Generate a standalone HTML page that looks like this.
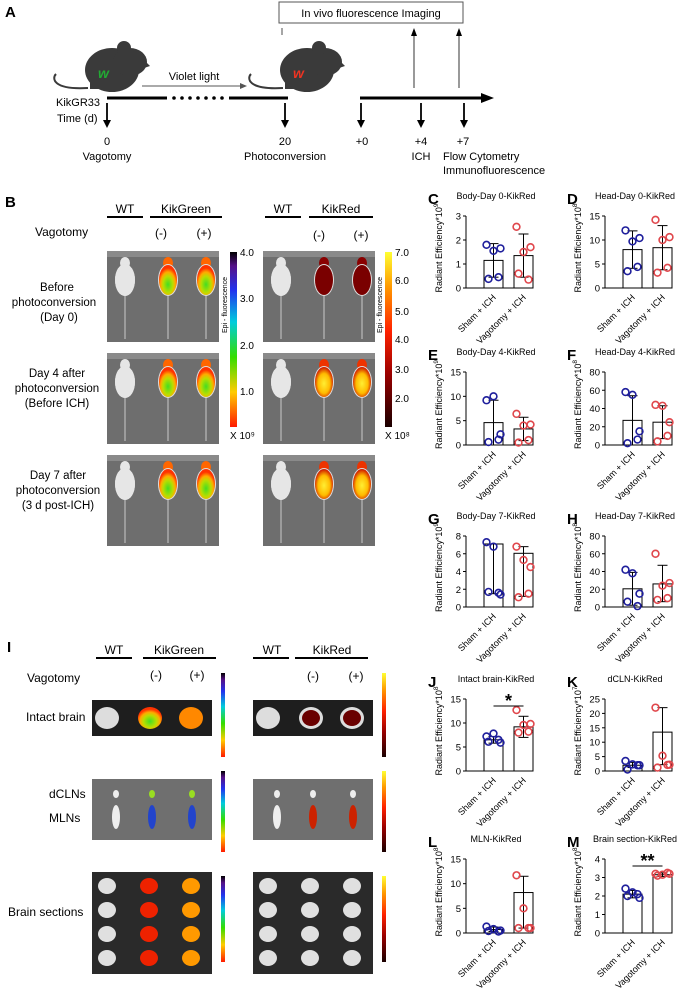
<!DOCTYPE html>
<html><head><meta charset="utf-8"><style>
html,body{margin:0;padding:0;background:#fff}
svg{display:block;font-family:"Liberation Sans",Arial,sans-serif}
</style></head><body>
<svg id="fig" width="692" height="996" viewBox="0 0 692 996">
<defs>
<linearGradient id="gGreen" x1="0" y1="1" x2="0" y2="0">
<stop offset="0" stop-color="#ff1a00"/><stop offset="0.2" stop-color="#ffcc00"/><stop offset="0.4" stop-color="#33dd00"/><stop offset="0.6" stop-color="#00ccdd"/><stop offset="0.78" stop-color="#2233ee"/><stop offset="0.92" stop-color="#551188"/><stop offset="1" stop-color="#000"/></linearGradient>
<linearGradient id="gRed" x1="0" y1="1" x2="0" y2="0">
<stop offset="0" stop-color="#1a0000"/><stop offset="0.3" stop-color="#990000"/><stop offset="0.55" stop-color="#ff2200"/><stop offset="0.8" stop-color="#ff9900"/><stop offset="1" stop-color="#ffff33"/></linearGradient>
<radialGradient id="hotG" cx="0.5" cy="0.65" r="0.55"><stop offset="0" stop-color="#44dd22"/><stop offset="0.5" stop-color="#bbdd00"/><stop offset="0.75" stop-color="#ffaa00"/><stop offset="1" stop-color="#ff3300"/></radialGradient>
<radialGradient id="hotR" cx="0.5" cy="0.55" r="0.55"><stop offset="0" stop-color="#ffee33"/><stop offset="0.6" stop-color="#ffbb00"/><stop offset="1" stop-color="#cc1100"/></radialGradient>
</defs>

<!-- Panel A -->
<g font-size="11">
<text x="5" y="17" font-weight="bold" font-size="15">A</text>
<rect x="279" y="2" width="184" height="21" fill="#fff" stroke="#555"/>
<text x="371" y="17" text-anchor="middle">In vivo fluorescence Imaging</text>
<line x1="282" y1="35" x2="282" y2="28" stroke="#000" stroke-width="0.7"/>
<g fill="#3a3a3a">
<path d="M88 88 C52 90 52 78 56 74" stroke="#3a3a3a" stroke-width="2" fill="none"/>
<ellipse cx="112" cy="70" rx="27" ry="22"/><ellipse cx="130" cy="62" rx="17" ry="14"/><circle cx="124" cy="48" r="7"/><path d="M140 56 L150 66 L138 70 Z"/>
<rect x="90" y="80" width="32" height="9"/>
<text x="98" y="78" fill="#22aa33" font-size="14" font-style="italic" font-weight="bold">w</text>
</g>
<g fill="#3a3a3a">
<path d="M283 88 C247 90 247 78 251 74" stroke="#3a3a3a" stroke-width="2" fill="none"/>
<ellipse cx="307" cy="70" rx="27" ry="22"/><ellipse cx="325" cy="62" rx="17" ry="14"/><circle cx="319" cy="48" r="7"/><path d="M335 56 L345 66 L333 70 Z"/>
<rect x="285" y="80" width="32" height="9"/>
<text x="293" y="78" fill="#ee3322" font-size="14" font-style="italic" font-weight="bold">w</text>
</g>
<text x="194" y="80" text-anchor="middle">Violet light</text>
<line x1="142" y1="86" x2="243" y2="86" stroke="#555"/><path d="M247 86 L240 83 L240 89Z" fill="#555"/>
<line x1="107" y1="98" x2="167" y2="98" stroke="#000" stroke-width="3"/>
<g fill="#000"><circle cx="174" cy="98" r="1.8"/><circle cx="182" cy="98" r="1.8"/><circle cx="190" cy="98" r="1.8"/><circle cx="198" cy="98" r="1.8"/><circle cx="206" cy="98" r="1.8"/><circle cx="214" cy="98" r="1.8"/><circle cx="222" cy="98" r="1.8"/></g>
<line x1="229" y1="98" x2="288" y2="98" stroke="#000" stroke-width="3"/>
<line x1="360" y1="98" x2="484" y2="98" stroke="#000" stroke-width="3"/><path d="M494 98 L481 93 L481 103Z"/>
<g stroke="#000" stroke-width="0.8"><line x1="414" y1="88" x2="414" y2="34"/><line x1="459" y1="88" x2="459" y2="34"/></g>
<path d="M414 28 L411 36 L417 36Z M459 28 L456 36 L462 36Z"/>
<g stroke="#000" stroke-width="1.8"><line x1="107" y1="103" x2="107" y2="122"/><line x1="285" y1="103" x2="285" y2="122"/><line x1="361" y1="103" x2="361" y2="122"/><line x1="421" y1="103" x2="421" y2="122"/><line x1="464" y1="103" x2="464" y2="122"/></g>
<path d="M107 128 L103 120 L111 120Z M285 128 L281 120 L289 120Z M361 128 L357 120 L365 120Z M421 128 L417 120 L425 120Z M464 128 L460 120 L468 120Z"/>
<text x="56" y="106">KikGR33</text><text x="57" y="122">Time (d)</text>
<g text-anchor="middle"><text x="107" y="145">0</text><text x="107" y="160">Vagotomy</text><text x="285" y="145">20</text><text x="285" y="160">Photoconversion</text><text x="362" y="145">+0</text><text x="421" y="145">+4</text><text x="421" y="160">ICH</text><text x="463" y="145">+7</text></g>
<text x="443" y="160">Flow Cytometry</text><text x="443" y="174">Immunofluorescence</text>
</g>

<!-- Panel B -->
<g font-size="11">
<text x="5" y="207" font-weight="bold" font-size="15">B</text>
<g text-anchor="middle" font-size="12"><text x="125" y="213">WT</text><text x="186" y="213">KikGreen</text><text x="283" y="213">WT</text><text x="341" y="213">KikRed</text></g>
<g stroke="#000" stroke-width="2"><line x1="107" y1="217" x2="143" y2="217"/><line x1="150" y1="217" x2="222" y2="217"/><line x1="265" y1="217" x2="301" y2="217"/><line x1="309" y1="217" x2="373" y2="217"/></g>
<text x="35" y="236" font-size="12">Vagotomy</text>
<g text-anchor="middle" font-size="12"><text x="161" y="237">(-)</text><text x="204" y="237">(+)</text><text x="319" y="239">(-)</text><text x="361" y="239">(+)</text></g>
<g text-anchor="middle" font-size="11.5">
<text x="57" y="291">Before</text><text x="54" y="306">photoconversion</text><text x="59" y="321">(Day 0)</text>
<text x="57" y="377">Day 4 after</text><text x="57" y="392">photoconversion</text><text x="57" y="407">(Before ICH)</text>
<text x="58" y="479">Day 7 after</text><text x="58" y="494">photoconversion</text><text x="58" y="509">(3 d post-ICH)</text>
</g>
<g id="bimgs"></g>
<rect x="230" y="252" width="7" height="175" fill="url(#gGreen)"/>
<rect x="385" y="252" width="7" height="175" fill="url(#gRed)"/>
<g font-size="10"><text x="240" y="256">4.0</text><text x="240" y="302">3.0</text><text x="240" y="349">2.0</text><text x="240" y="395">1.0</text><text x="230" y="439">X 10⁹</text>
<text x="395" y="256">7.0</text><text x="395" y="284">6.0</text><text x="395" y="315">5.0</text><text x="395" y="343">4.0</text><text x="395" y="373">3.0</text><text x="395" y="402">2.0</text><text x="385" y="439">X 10⁸</text></g>
<g font-size="7"><text transform="translate(227,305) rotate(-90)" text-anchor="middle">Epi - fluorescence</text><text transform="translate(382,305) rotate(-90)" text-anchor="middle">Epi - fluorescence</text></g>
</g>

<!-- Panel I -->
<g font-size="12">
<text x="7" y="652" font-weight="bold" font-size="15">I</text>
<g text-anchor="middle"><text x="114" y="654">WT</text><text x="179" y="654">KikGreen</text><text x="272" y="654">WT</text><text x="332" y="654">KikRed</text></g>
<g stroke="#000" stroke-width="2"><line x1="96" y1="658" x2="132" y2="658"/><line x1="143" y1="658" x2="216" y2="658"/><line x1="253" y1="658" x2="289" y2="658"/><line x1="295" y1="658" x2="368" y2="658"/></g>
<text x="27" y="682">Vagotomy</text>
<g text-anchor="middle"><text x="156" y="679">(-)</text><text x="197" y="679">(+)</text><text x="313" y="680">(-)</text><text x="356" y="680">(+)</text></g>
<text x="26" y="721">Intact brain</text><text x="49" y="798">dCLNs</text><text x="49" y="822">MLNs</text><text x="8" y="916">Brain sections</text>
<g id="iimgs"></g>
<g>
<rect x="221" y="673" width="4" height="84" fill="url(#gGreen)"/><rect x="221" y="771" width="4" height="81" fill="url(#gGreen)"/><rect x="221" y="876" width="4" height="86" fill="url(#gGreen)"/>
<rect x="382" y="673" width="4" height="84" fill="url(#gRed)"/><rect x="382" y="771" width="4" height="81" fill="url(#gRed)"/><rect x="382" y="876" width="4" height="86" fill="url(#gRed)"/>
</g>
</g>

<g id="charts"></g>
</svg>
<script>
const NS='http://www.w3.org/2000/svg';
function mk(tag,attrs,parent,txt){const e=document.createElementNS(NS,tag);for(const k in attrs)e.setAttribute(k,attrs[k]);if(txt!==undefined)e.textContent=txt;parent.appendChild(e);return e;}

// ---------- mouse images (panel B) ----------
const bimgs=document.getElementById('bimgs');
const bRowsY=[251,353,455];
const bCols=[[107,'L'],[263,'R']];
bRowsY.forEach((ry,ri)=>{bCols.forEach(([cx,side])=>{
  const g=mk('g',{},bimgs);
  
  
  mk('rect',{x:cx,y:ry,width:112,height:91,fill:'#6e6e6e'},g);
  mk('rect',{x:cx,y:ry,width:112,height:6,fill:'#8a8a8a'},g);
  [18,61,99].forEach((mx,mi)=>{
    const x=cx+mx;
    mk('line',{x1:x,y1:ry+40,x2:x,y2:ry+88,stroke:'#bbb','stroke-width':1.2},g);
    let fill='#e6e6e6';
    if(mi>0) fill = side==='L' ? 'url(#hotG)' : (ri===0?'#7a0000':'url(#hotR)');
    mk('ellipse',{cx:x,cy:ry+12,rx:5,ry:6,fill:mi>0?(side==='L'?'#ff6600':(ri===0?'#8a0000':'#ee3300')):'#e6e6e6'},g);
    mk('ellipse',{cx:x,cy:ry+29,rx:10,ry:16,fill:'#ddd'},g);
    mk('ellipse',{cx:x,cy:ry+29,rx:mi>0?9:10,ry:mi>0?15:16,fill:fill},g);
  });
});});

// ---------- organ images (panel I) ----------
const iimgs=document.getElementById('iimgs');
const iRows=[[700,36,'#1e1e1e'],[779,61,'#6f6f6f'],[872,102,'#2a2a2a']];
[92,253].forEach((cx,ci)=>{iRows.forEach(([ry,h,bg],ri)=>{
  const g=mk('g',{},iimgs);
  
  
  mk('rect',{x:cx,y:ry,width:120,height:h,fill:bg},g);
  const xs=[15,65,106];
  if(ri===0){xs.forEach((dx,i)=>{mk('ellipse',{cx:cx+dx+(i==0?0:-7),cy:ry+18,rx:12,ry:11,fill:i===0?'#ddd':(ci===0?(i==1?'url(#hotG)':'#ff8800'):'#ddd')},g);
    if(i>0&&ci===1)mk('ellipse',{cx:cx+dx-7,cy:ry+18,rx:9,ry:8,fill:'#6a0000'},g);});}
  if(ri===1){xs.forEach((dx,i)=>{const x=cx+(i==0?24:i==1?60:100);
    mk('ellipse',{cx:x,cy:ry+15,rx:3,ry:4,fill:i==0?'#eee':(ci==0?'#99dd22':'#eee')},g);
    mk('ellipse',{cx:x,cy:ry+38,rx:4,ry:12,fill:i==0?'#eee':(ci==0?'#2244cc':'#cc2200')},g);});}
  if(ri===2){for(let r=0;r<4;r++){xs.forEach((dx,i)=>{const x=cx+(i==0?15:i==1?57:99);
    let f='#e0e0e0'; if(i>0&&ci===0) f=i==1?'#ee2200':'#ff9900';
    mk('ellipse',{cx:x,cy:ry+14+r*24,rx:9,ry:8,fill:f},g);});}}
});});

// ---------- chart data ----------
const groups=['Sham + ICH','Vagotomy + ICH'];
const titles=['Body-Day 0-KikRed','Head-Day 0-KikRed','Body-Day 4-KikRed','Head-Day 4-KikRed','Body-Day 7-KikRed','Head-Day 7-KikRed','Intact brain-KikRed','dCLN-KikRed','MLN-KikRed','Brain section-KikRed'];
const letters=['C','D','E','F','G','H','J','K','L','M'];
const exps=['9','8','9','8','9','8','8','7','8','8'];
const yTicks=[[0,1,2,3],[0,5,10,15],[0,5,10,15],[0,20,40,60,80],[0,2,4,6,8],[0,20,40,60,80],[0,5,10,15],[0,5,10,15,20,25],[0,5,10,15],[0,1,2,3,4]];
const barSham=[1.15,8,4.6,27,7.1,20.5,6.5,2,0.7,2.1];
const barVag=[1.35,8.4,3.3,25,6.05,26,9.2,13.5,8.2,3.15];
const errSham=[[0.45,1.85],[4.1,11.9],[0,9.2],[0,54],[1.5,7.1],[2,39],[5.8,7.2],[1.2,3],[0.3,1.2],[1.9,2.3]];
const errVag=[[0.45,2.25],[3.8,13],[0.9,5.7],[7,43],[1.2,6.8],[6,47],[7,11.4],[2.2,22],[1,11.5],[3.05,3.25]];
const ptsSham=[[1.8,1.55,1.65,0.38,0.45],[12,9.7,10.4,3.5,4.4],[9.2,10,2.2,0.6,1.1],[58,55,15,2,6],[7.3,6.8,1.4,1.7,1.6],[42,38,15,6,1],[7.2,7.8,5.9,6.1,6.5],[3.5,2.3,2,0.5,2],[1.3,0.8,0.5,0.4,0.3],[2.4,2.2,1.9,2.0,2.1]];
const ptsVag=[[2.55,1.5,1.7,0.6,0.35],[14.2,10,10.6,3.2,4.2],[6.4,4,4.2,0.5,1],[44,43,25,4,10],[6.8,5.3,4.5,1.1,1.5],[60,24,27,8,10],[12.7,9.6,9.8,8,8.2],[22,5.3,2.2,1.2,2.1],[11.7,5,1,1,1],[3.2,3.15,3.2,3.1,3.25]];
const sigLabels=['','','','','','','*','','','**'];

// layout (not data)
const rowTop=[216,372,536,699,859], rowBase=[288,445,607,771,933], colAxis=[466,605];
const ptOffsets=[-7,0,7,-5,5];
const charts=document.getElementById('charts');

titles.forEach((t,i)=>{
  const r=Math.floor(i/2), c=i%2;
  const ax=colAxis[c], y0=rowBase[r], yT=rowTop[r];
  const ticks=yTicks[i], ymax=ticks[ticks.length-1];
  const ys=v=>y0-(v/ymax)*(y0-yT);
  const bx=[ax+18,ax+48], bw=19;
  const g=mk('g',{},charts);
  
  
  const lt=mk('text',{x:ax-38,y:yT-12,'font-size':15,'font-weight':'bold'},g,letters[i]);
  
  
  const tt=mk('text',{x:ax+30,y:yT-17,'font-size':9,'text-anchor':'middle'},g,t);
  
  
  mk('line',{x1:ax,y1:yT,x2:ax,y2:y0,stroke:'#000','stroke-width':1},g);
  mk('line',{x1:ax,y1:y0,x2:ax+63,y2:y0,stroke:'#000','stroke-width':1},g);
  ticks.forEach(v=>{const y=ys(v);mk('line',{x1:ax-3,y1:y,x2:ax,y2:y,stroke:'#000'},g);
    const tl=mk('text',{x:ax-5,y:y+3.5,'font-size':9.5,'text-anchor':'end'},g,String(v));
    
    });
  const yt=mk('text',{transform:`translate(${ax-24},${(y0+yT)/2-4}) rotate(-90)`,'font-size':9,'text-anchor':'middle'},g);
  
  
  yt.appendChild(document.createTextNode('Radiant Efficiency*10'));
  mk('tspan',{dy:-4,'font-size':6.5},yt,exps[i]);
  const bars=[barSham[i],barVag[i]], errs=[errSham[i],errVag[i]], pts=[ptsSham[i],ptsVag[i]], cols=['#1f1f9c','#e0474c'];
  [0,1].forEach(k=>{
    const cx=bx[k]+bw/2;
    const b=mk('rect',{x:bx[k],y:ys(bars[k]),width:bw,height:y0-ys(bars[k]),fill:'#fff',stroke:'#000','stroke-width':1},g);
    
    
    mk('line',{x1:cx,y1:ys(errs[k][0]),x2:cx,y2:ys(errs[k][1]),stroke:'#000'},g);
    mk('line',{x1:cx-5,y1:ys(errs[k][0]),x2:cx+5,y2:ys(errs[k][0]),stroke:'#000'},g);
    mk('line',{x1:cx-5,y1:ys(errs[k][1]),x2:cx+5,y2:ys(errs[k][1]),stroke:'#000'},g);
    pts[k].forEach((v,j)=>{const p=mk('circle',{cx:cx+ptOffsets[j],cy:ys(v),r:3.4,fill:'none',stroke:cols[k],'stroke-width':1.6},g);
      
      });
    const xl=mk('text',{transform:`translate(${cx+3},${y0+10}) rotate(-45)`,'font-size':9,'text-anchor':'end'},g,groups[k]);
    
    
  });
  if(sigLabels[i]){
    const sy=yT+7;
    mk('line',{x1:bx[0]+bw/2,y1:sy,x2:bx[1]+bw/2,y2:sy,stroke:'#000','stroke-width':1},g);
    const s=mk('text',{x:(bx[0]+bx[1]+bw)/2,y:sy+1,'font-size':18,'font-weight':'bold','text-anchor':'middle'},g,sigLabels[i]);
    
    
  }
});
</script>
</body></html>
